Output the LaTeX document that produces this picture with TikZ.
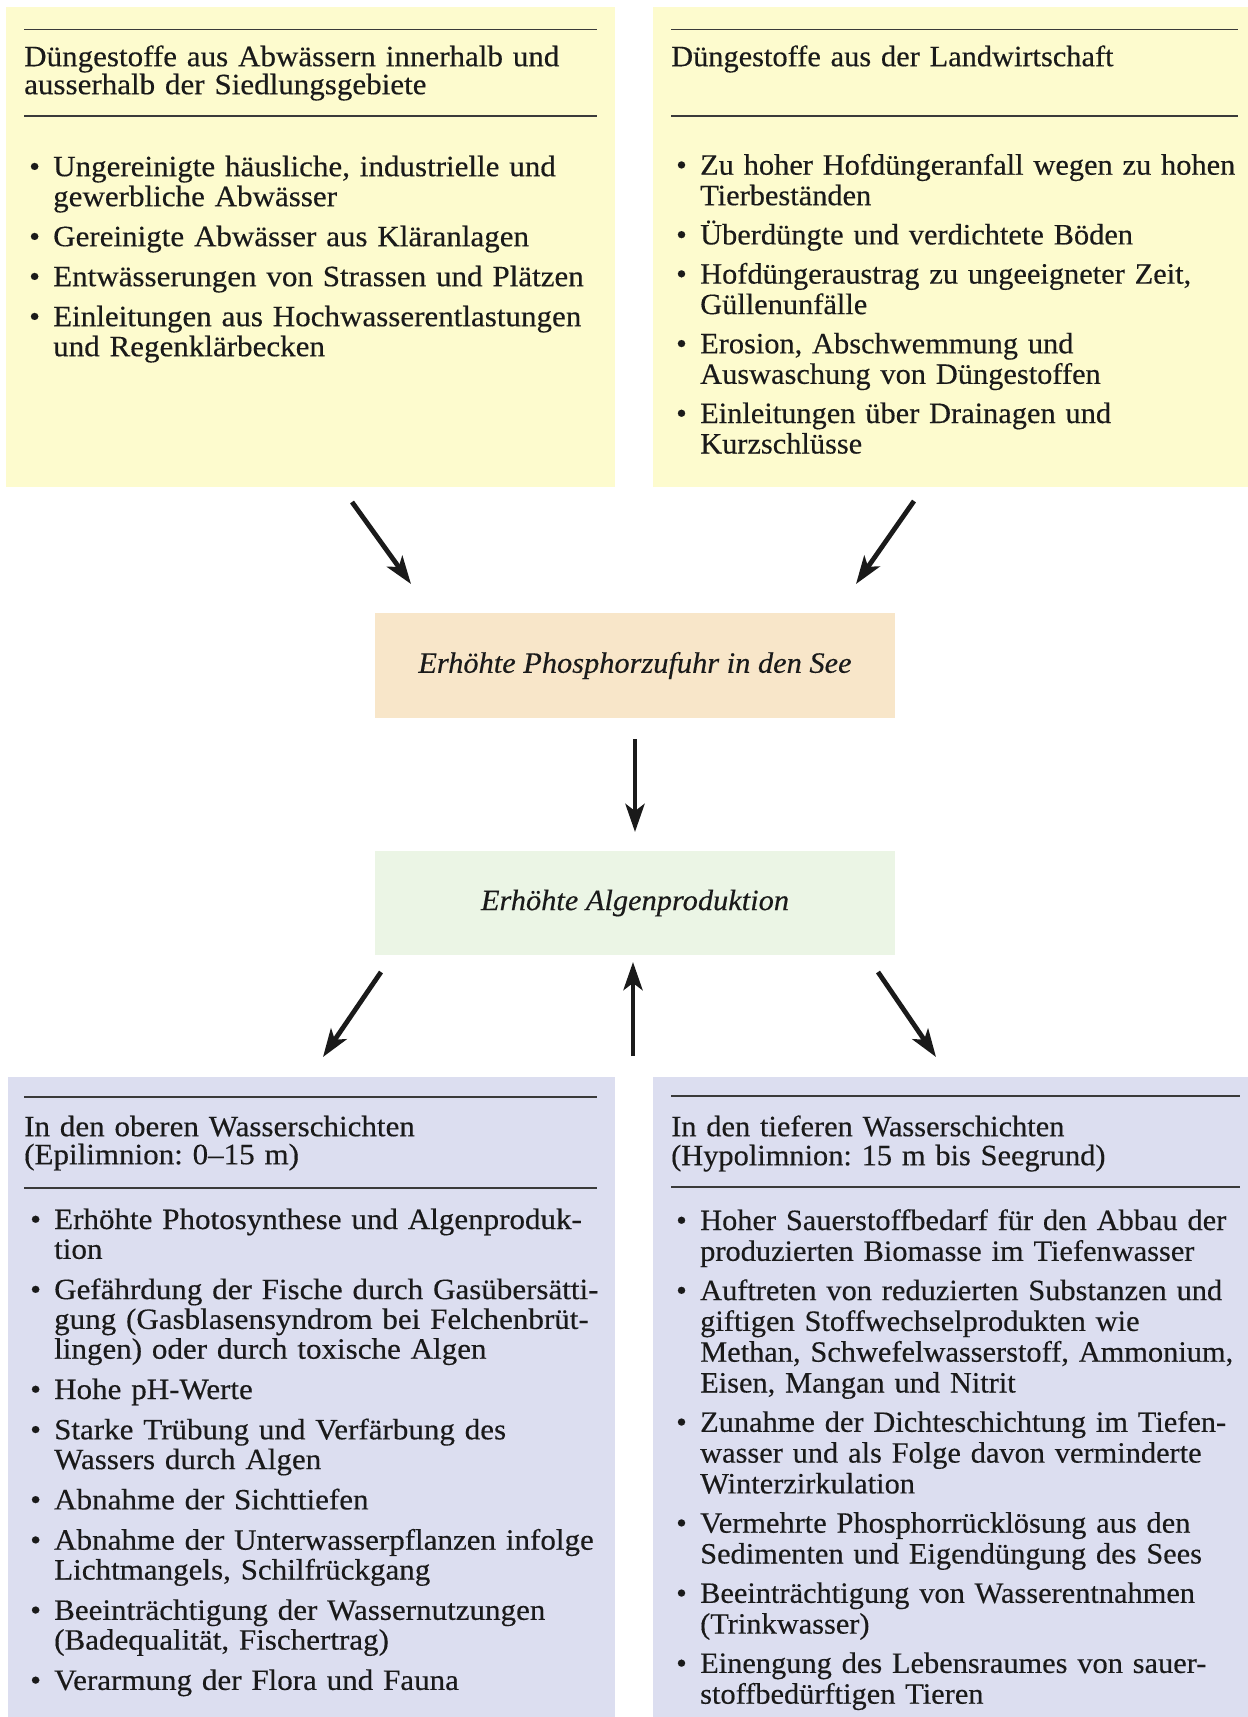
\documentclass[tikz,border=0pt]{standalone}
\usepackage{fontspec}
\setmainfont{Liberation Serif}[FakeStretch=1.03,FakeBold=0.35]
\newfontfamily\leftfont{Liberation Serif}[FakeStretch=1.052,FakeBold=0.35]
\usetikzlibrary{arrows.meta}
\definecolor{ybox}{HTML}{FDFBCE}
\definecolor{obox}{HTML}{F8E6C9}
\definecolor{gbox}{HTML}{EBF5E5}
\definecolor{bbox}{HTML}{DCDEF0}
\definecolor{ink}{HTML}{1A1A1A}
\definecolor{rulec}{HTML}{3A3A3A}
\newlength\itmind
\setlength\itmind{24pt}
\newcommand\fstrut{\rule{0pt}{27pt}}
\newcommand\itm{\par\hangindent=\itmind\hangafter=1\noindent\makebox[\itmind][l]{\textbullet}}
\tikzset{
  seprule/.style={draw=rulec, line width=1.6pt},
  txtnode/.style={inner sep=0pt, anchor=north west, align=left, text width=620pt, text=ink},
  cbox/.style={inner sep=0pt, minimum width=520pt, text=ink, font=\fontsize{29.5}{30}\selectfont\itshape},
  arr/.style={draw=ink, line width=4.8pt, -{Stealth[length=28pt,width=19pt,inset=7pt]}}
}
\begin{document}
\frenchspacing
\begin{tikzpicture}[x=1pt,y=-1pt]
\useasboundingbox (0,0) rectangle (1248,1717);
\fill[white] (0,0) rectangle (1248,1717);
% panels
\fill[ybox] (6,7) rectangle (615,487);
\fill[ybox] (653,7) rectangle (1248,487);
\fill[bbox] (8,1077) rectangle (615,1717);
\fill[bbox] (653,1077) rectangle (1248,1717);
% rules
\draw[seprule] (24,29.5) -- (597,29.5);
\draw[seprule] (24,116) -- (597,116);
\draw[seprule] (671,29.5) -- (1238,29.5);
\draw[seprule] (671,116) -- (1238,116);
\draw[seprule] (24,1097) -- (597,1097);
\draw[seprule] (24,1188) -- (597,1188);
\draw[seprule] (671,1096) -- (1240,1096);
\draw[seprule] (671,1187) -- (1240,1187);
% headings
\node[txtnode, font=\leftfont\fontsize{29.5}{28}\selectfont\frenchspacing] (h1) at (24,39)
 {\fstrut Düngestoffe aus Abwässern innerhalb und\newline ausserhalb der Siedlungsgebiete\par};
\node[txtnode, font=\fontsize{29.5}{28}\selectfont\frenchspacing] (h2) at (671,39)
 {\fstrut Düngestoffe aus der Landwirtschaft\par};
\node[txtnode, font=\leftfont\fontsize{29.5}{28}\selectfont\frenchspacing] (h3) at (24,1109)
 {\fstrut In den oberen Wasserschichten\newline (Epilimnion: 0–15 m)\par};
\node[txtnode, font=\fontsize{29.5}{29}\selectfont\frenchspacing] (h4) at (671,1109)
 {\fstrut In den tieferen Wasserschichten\newline (Hypolimnion: 15 m bis Seegrund)\par};
% lists
\node[txtnode, font=\leftfont\fontsize{29.5}{30}\selectfont\frenchspacing] (l1) at (29,146)
 {\itm\fstrut Ungereinigte häusliche, industrielle und\newline gewerbliche Abwässer\setlength\parskip{10pt}
 \itm Gereinigte Abwässer aus Kläranlagen
 \itm Entwässerungen von Strassen und Plätzen
 \itm Einleitungen aus Hochwasserentlastungen\newline und Regenklärbecken\par};
\node[txtnode, font=\fontsize{29.5}{30.5}\selectfont\frenchspacing] (l2) at (676,144)
 {\itm\fstrut Zu hoher Hofdüngeranfall wegen zu hohen\newline Tierbeständen\setlength\parskip{8.7pt}
 \itm Überdüngte und verdichtete Böden
 \itm Hofdüngeraustrag zu ungeeigneter Zeit,\newline Güllenunfälle
 \itm Erosion, Abschwemmung und\newline Auswaschung von Düngestoffen
 \itm Einleitungen über Drainagen und\newline Kurzschlüsse\par};
\node[txtnode, font=\leftfont\fontsize{29.5}{29.8}\selectfont\frenchspacing] (l3) at (30,1199)
 {\itm\fstrut Erhöhte Photosynthese und Algenproduk-\newline tion\setlength\parskip{10.5pt}
 \itm Gefährdung der Fische durch Gasübersätti-\newline gung (Gasblasensyndrom bei Felchenbrüt-\newline lingen) oder durch toxische Algen
 \itm Hohe pH-Werte
 \itm Starke Trübung und Verfärbung des\newline Wassers durch Algen
 \itm Abnahme der Sichttiefen
 \itm Abnahme der Unterwasserpflanzen infolge\newline Lichtmangels, Schilfrückgang
 \itm Beeinträchtigung der Wassernutzungen\newline (Badequalität, Fischertrag)
 \itm Verarmung der Flora und Fauna\par};
\node[txtnode, font=\fontsize{29.5}{30.8}\selectfont\frenchspacing] (l4) at (676,1199)
 {\itm\fstrut Hoher Sauerstoffbedarf für den Abbau der\newline produzierten Biomasse im Tiefenwasser\setlength\parskip{8.5pt}
 \itm Auftreten von reduzierten Substanzen und\newline giftigen Stoffwechselprodukten wie\newline Methan, Schwefelwasserstoff, Ammonium,\newline Eisen, Mangan und Nitrit
 \itm Zunahme der Dichteschichtung im Tiefen-\newline wasser und als Folge davon verminderte\newline Winterzirkulation
 \itm Vermehrte Phosphorrücklösung aus den\newline Sedimenten und Eigendüngung des Sees
 \itm Beeinträchtigung von Wasserentnahmen\newline (Trinkwasser)
 \itm Einengung des Lebensraumes von sauer-\newline stoffbedürftigen Tieren\par};
% centre boxes
\node[cbox, fill=obox, minimum height=105pt] (phos) at (635,665.5) {Erhöhte Phosphorzufuhr in den See};
\node[cbox, fill=gbox, minimum height=104pt] (alg) at (635,903) {Erhöhte Algenproduktion};
% arrow end points
\coordinate (a1s) at (352,502);  \coordinate (a1e) at (411,584);
\coordinate (a2s) at (914,501);  \coordinate (a2e) at (856,584);
\coordinate (a3s) at (635,739);  \coordinate (a3e) at (635,832);
\coordinate (a4s) at (381,972);  \coordinate (a4e) at (323,1057);
\coordinate (a5s) at (633,1056); \coordinate (a5e) at (633,962);
\coordinate (a6s) at (878,972);  \coordinate (a6e) at (936,1057);
\draw[arr] (a1s) -- (a1e);
\draw[arr] (a2s) -- (a2e);
\draw[arr] (a3s) -- (a3e);
\draw[arr] (a4s) -- (a4e);
\draw[arr] (a5s) -- (a5e);
\draw[arr] (a6s) -- (a6e);
\end{tikzpicture}
\end{document}
